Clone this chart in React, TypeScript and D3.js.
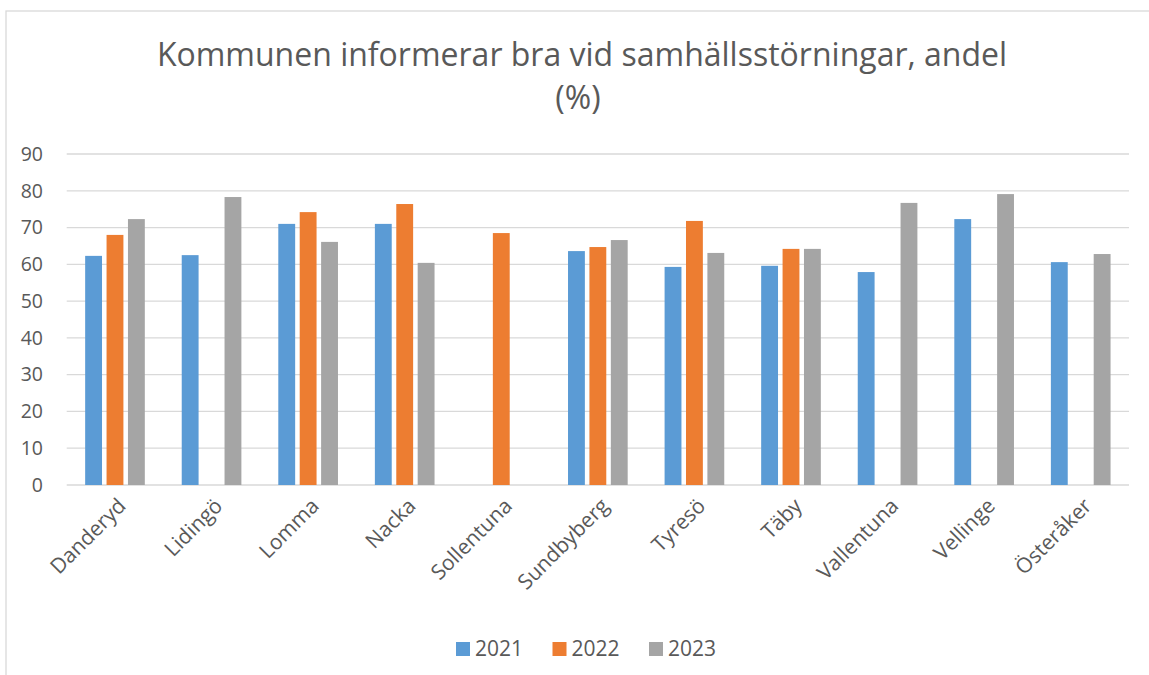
import React from "react";
import * as d3 from "d3";

const categories = ["Danderyd", "Lidingö", "Lomma", "Nacka", "Sollentuna", "Sundbyberg", "Tyresö", "Täby", "Vallentuna", "Vellinge", "Österåker"];
const seriesNames = ["2021", "2022", "2023"];
const values2021: (number | null)[] = [62.3, 62.5, 71.0, 71.0, null, 63.6, 59.3, 59.6, 57.9, 72.3, 60.6];
const values2022: (number | null)[] = [68.0, null, 74.2, 76.4, 68.5, 64.7, 71.8, 64.2, null, null, null];
const values2023: (number | null)[] = [72.3, 78.3, 66.1, 60.4, null, 66.6, 63.1, 64.2, 76.7, 79.1, 62.8];
const yTicks = [0, 10, 20, 30, 40, 50, 60, 70, 80, 90];
const colors = ["#5B9BD5", "#ED7D31", "#A5A5A5"];

const W = 1149, H = 675;
const plotLeft = 66.7, plotRight = 1129, plotTop = 154, plotBottom = 485;
const FONT = "'Open Sans', 'Noto Sans', sans-serif";
const TXT = "#595959";

export default function App() {
  const series = [values2021, values2022, values2023];
  const x = d3.scaleBand<string>().domain(categories).range([plotLeft, plotRight]).paddingInner(0).paddingOuter(0);
  const y = d3.scaleLinear().domain([0, 90]).range([plotBottom, plotTop]);
  const bw = x.bandwidth();
  const barW = bw / 5.73;
  const step = barW * 1.27;
  const groupW = barW * 3 + barW * 0.27 * 2;

  return (
    <svg width={W} height={H} style={{ position: "absolute", left: 0, top: 0, background: "#fff" }} fontFamily={FONT}>
      <rect x={0} y={0} width={W} height={H} fill="#fff" />
      <rect x={6} y={11} width={W + 20} height={H + 20} fill="none" stroke="#D9D9D9" strokeWidth={1.3} />
      <text x={582} y={66} textAnchor="middle" fontSize={32} fill={TXT}>Kommunen informerar bra vid samhällsstörningar, andel</text>
      <text x={578} y={109} textAnchor="middle" fontSize={32} fill={TXT}>(%)</text>
      {yTicks.map((t) => (
        <g key={t}>
          <line x1={plotLeft} x2={plotRight} y1={y(t)} y2={y(t)} stroke="#D9D9D9" strokeWidth={1.3} />
          <text x={43} y={y(t)} dy="0.35em" textAnchor="end" fontSize={19.5} fill={TXT}>{t}</text>
        </g>
      ))}
      {categories.map((c, i) => {
        const gx = (x(c) as number) + (bw - groupW) / 2;
        return (
          <g key={c}>
            {series.map((s, si) => {
              const v = s[i];
              if (v == null) return null;
              return <rect key={si} x={gx + si * step} y={y(v)} width={barW} height={y(0) - y(v)} fill={colors[si]} />;
            })}
          </g>
        );
      })}
      {categories.map((c) => {
        const cx = (x(c) as number) + bw / 2 + 7;
        const cy = 502;
        return (
          <text key={c} x={cx} y={cy} textAnchor="end" fontSize={21} fill={TXT} transform={`rotate(-45, ${cx}, ${cy})`} dy="0.35em">{c}</text>
        );
      })}
      {seriesNames.map((n, i) => {
        const lx = 456 + i * 96.5;
        return (
          <g key={n}>
            <rect x={lx} y={642} width={14} height={14} fill={colors[i]} />
            <text x={lx + 19} y={649} dy="0.35em" fontSize={21} fill={TXT}>{n}</text>
          </g>
        );
      })}
    </svg>
  );
}
